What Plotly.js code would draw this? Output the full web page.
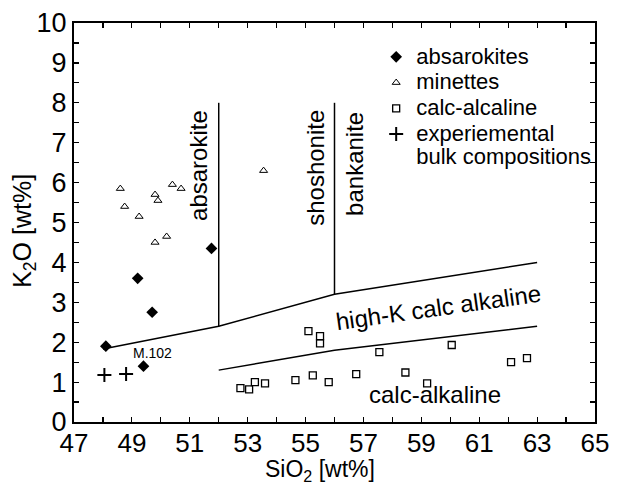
<!DOCTYPE html>
<html>
<head>
<meta charset="utf-8">
<script src="https://cdn.plot.ly/plotly-3.0.1.min.js"></script>
<style>html,body{margin:0;padding:0;background:#fff;}#chart{width:618px;height:486px;}</style>
</head>
<body>
<div id="chart"></div>
<script>
// Sample data (SiO2 wt%, K2O wt%)
var absarokiteSiO2 = [48.1, 49.2, 49.7, 49.4, 51.75];
var absarokiteK2O  = [1.9, 3.6, 2.75, 1.4, 4.35];

var minetteSiO2 = [48.6, 48.75, 49.25, 49.8, 49.9, 49.8, 50.2, 50.4, 50.7, 53.55];
var minetteK2O  = [5.85, 5.4, 5.15, 5.7, 5.55, 4.5, 4.65, 5.95, 5.85, 6.3];

var calcSiO2 = [52.75, 53.05, 53.25, 53.6, 54.65, 55.25, 55.8, 55.1, 55.5, 55.5, 56.75, 57.55, 58.45, 59.2, 60.05, 62.1, 62.65];
var calcK2O  = [0.85, 0.82, 1.0, 0.97, 1.05, 1.17, 1.0, 2.28, 2.15, 1.97, 1.2, 1.75, 1.24, 0.97, 1.93, 1.5, 1.6];

var expSiO2 = [48.05, 48.8];
var expK2O  = [1.18, 1.2];

// Field boundaries
var shoshBoundSiO2 = [48, 52, 56, 63];
var shoshBoundK2O  = [1.83, 2.4, 3.2, 4.0];
var highKBoundSiO2 = [52, 56, 63];
var highKBoundK2O  = [1.3, 1.8, 2.4];
var dividerSiO2 = [52, 52, null, 56, 56];
var dividerK2O  = [2.4, 8, null, 3.2, 8];

var legendNames = ['absarokites', 'minettes', 'calc-alcaline', 'experiemental<br>bulk compositions'];

var FONT = 'Arial, "Liberation Sans", sans-serif';
function big(s){ return '<span style="font-size:22px">' + s.split('<br>').join('</span><br><span style="font-size:22px">') + '</span>'; }

var lineStyle = {color: '#000', width: 1.5};
var traces = [
  {x: shoshBoundSiO2, y: shoshBoundK2O, mode: 'lines', line: lineStyle, showlegend: false, hoverinfo: 'skip'},
  {x: highKBoundSiO2, y: highKBoundK2O, mode: 'lines', line: lineStyle, showlegend: false, hoverinfo: 'skip'},
  {x: dividerSiO2, y: dividerK2O, mode: 'lines', line: lineStyle, showlegend: false, hoverinfo: 'skip', connectgaps: false},
  {x: absarokiteSiO2, y: absarokiteK2O, mode: 'markers', name: big(legendNames[0]),
   marker: {symbol: 'diamond', size: 9, color: '#000'}},
  {x: minetteSiO2, y: minetteK2O, mode: 'markers', name: big(legendNames[1]),
   marker: {symbol: 'triangle-up-open', size: 7, color: '#000', line: {width: 1, color: '#000'}}},
  {x: calcSiO2, y: calcK2O, mode: 'markers', name: big(legendNames[2]),
   marker: {symbol: 'square-open', size: 7, color: '#000', line: {width: 1.3, color: '#000'}}},
  {x: expSiO2, y: expK2O, mode: 'markers', name: big(legendNames[3]),
   marker: {symbol: 'cross-thin-open', size: 10, color: '#000', line: {width: 2, color: '#000'}}}
];

var ann = function(text, x, y, size, angle){
  return {text: text, x: x, y: y, xref: 'x', yref: 'y', showarrow: false, textangle: angle || 0,
          font: {family: FONT, size: size, color: '#000'}, xanchor: 'center', yanchor: 'middle'};
};

var layout = {
  width: 618, height: 486,
  margin: {l: 74, r: 23, t: 23, b: 64},
  paper_bgcolor: '#fff', plot_bgcolor: '#fff',
  font: {family: FONT, color: '#000'},
  showlegend: true,
  legend: {x: 0.58, y: 0.96, xanchor: 'left', yanchor: 'top', bgcolor: 'rgba(0,0,0,0)',
           font: {family: FONT, size: 17.5, color: '#000'}, valign: 'top', tracegroupgap: 0},
  xaxis: {range: [47, 65], tick0: 47, dtick: 2, ticks: 'inside', ticklen: 5, tickwidth: 1.2, tickcolor: '#000',
          minor: {dtick: 1, ticks: 'inside', ticklen: 5, tickwidth: 1.2, tickcolor: '#000'},
          showline: true, linewidth: 2, linecolor: '#000', mirror: 'ticks', showgrid: false, zeroline: false,
          ticklabelstandoff: -3,
          tickfont: {family: FONT, size: 26, color: '#000'}},
  yaxis: {range: [0, 10], tick0: 0, dtick: 1, ticks: 'inside', ticklen: 5, tickwidth: 1.2, tickcolor: '#000',
          minor: {dtick: 0.5, ticks: 'inside', ticklen: 5, tickwidth: 1.2, tickcolor: '#000'},
          showline: true, linewidth: 2, linecolor: '#000', mirror: 'ticks', showgrid: false, zeroline: false,
          tickfont: {family: FONT, size: 27, color: '#000'}},
  annotations: [
    ann('absarokite', 51.28, 6.44, 24, -90),
    ann('shoshonite', 55.36, 6.37, 24, -90),
    ann('bankanite', 56.71, 6.47, 24, -90),
    ann('high-K calc alkaline', 59.58, 2.86, 24, -8),
    ann('calc-alkaline', 59.47, 0.68, 24, 0),
    ann('M.102', 49.7, 1.73, 14, 0),
    {text: 'K<sub>2</sub>O [wt%]', xref: 'paper', yref: 'paper', x: -0.096, y: 0.479, showarrow: false,
     textangle: -90, xanchor: 'center', yanchor: 'middle', font: {family: FONT, size: 25, color: '#000'}},
    {text: 'SiO<sub>2</sub> [wt%]', xref: 'paper', yref: 'paper', x: 0.472, y: -0.122, showarrow: false,
     xanchor: 'center', yanchor: 'middle', borderpad: 0, font: {family: FONT, size: 23, color: '#000'}}
  ]
};

Plotly.newPlot('chart', traces, layout, {staticPlot: true, displayModeBar: false});
</script>
</body>
</html>
